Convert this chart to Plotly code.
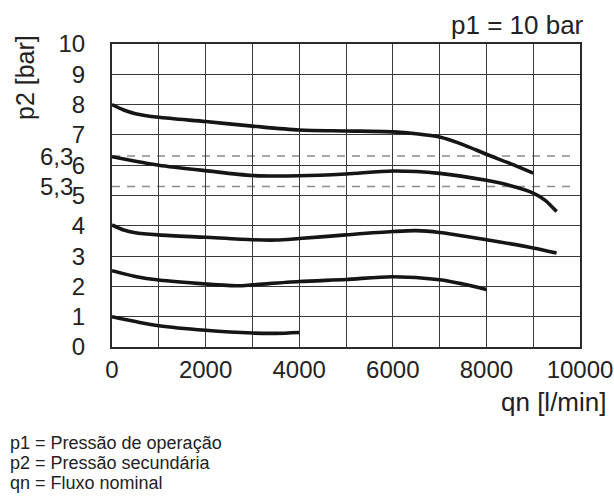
import plotly.graph_objects as go

# Flow rate qn [l/min] and secondary pressure p2 [bar] for each set point
flow_8 = [0, 250, 500, 1000, 2000, 3000, 4000, 5000, 6000, 6500, 7000, 7500, 8000, 8500, 9000]
p2_8 = [8.0, 7.82, 7.7, 7.58, 7.44, 7.29, 7.16, 7.13, 7.1, 7.04, 6.93, 6.68, 6.36, 6.06, 5.74]

flow_63 = [0, 500, 1000, 2000, 3000, 4000, 5000, 6000, 7000, 8000, 8500, 9000, 9250, 9500]
p2_63 = [6.28, 6.13, 6.0, 5.82, 5.66, 5.65, 5.71, 5.81, 5.73, 5.5, 5.33, 5.08, 4.85, 4.47]

flow_4 = [0, 250, 500, 1000, 2000, 3000, 3500, 4000, 5000, 6000, 6500, 7000, 8000, 9000, 9500]
p2_4 = [4.03, 3.86, 3.77, 3.7, 3.62, 3.54, 3.53, 3.58, 3.7, 3.81, 3.84, 3.78, 3.54, 3.27, 3.1]

flow_25 = [0, 500, 1000, 2000, 2700, 3000, 4000, 5000, 6000, 7000, 7500, 8000]
p2_25 = [2.52, 2.33, 2.21, 2.08, 2.02, 2.05, 2.16, 2.23, 2.32, 2.22, 2.08, 1.9]

flow_1 = [0, 500, 1000, 2000, 3000, 3500, 4000]
p2_1 = [1.0, 0.84, 0.7, 0.55, 0.46, 0.45, 0.48]

# Reference set-point levels shown as dashed lines
ref_levels = [6.3, 5.3]
ref_labels = ["6,3", "5,3"]

legend_lines = ["p1 = Pressão de operação", "p2 = Pressão secundária", "qn = Fluxo nominal"]

x_grid = list(range(0, 10001, 1000))
x_labels = [str(v) if v % 2000 == 0 else "" for v in x_grid]
y_grid = list(range(0, 11))

FONT = "Liberation Sans, Arial, sans-serif"
INK = "#222222"

fig = go.Figure()

for fx, fy in [(flow_8, p2_8), (flow_63, p2_63), (flow_4, p2_4), (flow_25, p2_25), (flow_1, p2_1)]:
    fig.add_trace(go.Scatter(
        x=fx, y=fy, mode="lines",
        line=dict(color="#151515", width=3.6, shape="spline", smoothing=0.8),
        showlegend=False, hoverinfo="skip",
    ))

for lvl, lab in zip(ref_levels, ref_labels):
    fig.add_shape(type="line", xref="x", yref="y", x0=0, x1=9800, y0=lvl, y1=lvl,
                  line=dict(color="#8a8a8a", width=1.5, dash="8px,7px"), layer="below")
    fig.add_annotation(xref="paper", yref="y", x=-0.078, y=lvl, text=lab, showarrow=False,
                       xanchor="right", yanchor="middle",
                       font=dict(family=FONT, size=24, color=INK))

fig.add_annotation(xref="paper", yref="paper", x=-0.186, y=0.891, text="p2 [bar]", textangle=-90,
                   showarrow=False, xanchor="center", yanchor="middle",
                   font=dict(family=FONT, size=25, color=INK))
fig.add_annotation(xref="paper", yref="paper", x=1.012, y=1.005, text="p1 = 10 bar",
                   showarrow=False, xanchor="right", yanchor="bottom",
                   font=dict(family=FONT, size=26, color=INK))
fig.add_annotation(xref="paper", yref="paper", x=1.062, y=-0.125, text="qn [l/min]",
                   showarrow=False, xanchor="right", yanchor="top",
                   font=dict(family=FONT, size=26, color=INK))

# Footer glossary, one line per annotation
for i, line in enumerate(legend_lines):
    fig.add_annotation(xref="paper", yref="paper", x=-0.222, y=(347 - 443 - 20 * i) / 303,
                       text=line, showarrow=False, xanchor="left", yanchor="middle",
                       font=dict(family=FONT, size=18, color=INK))

fig.update_layout(
    width=614, height=498,
    margin=dict(l=112, r=34, t=44, b=151, autoexpand=False),
    paper_bgcolor="white", plot_bgcolor="white",
    xaxis=dict(range=[0, 10000], tickvals=x_grid, ticktext=x_labels, automargin=False,
               showgrid=True, gridcolor="#3a3a3a", gridwidth=1,
               showline=True, linecolor="#2a2a2a", linewidth=2, mirror=True,
               zeroline=False, ticks="", ticklabelstandoff=0,
               tickfont=dict(family=FONT, size=24, color=INK)),
    yaxis=dict(range=[0, 10], tickvals=y_grid, automargin=False,
               showgrid=True, gridcolor="#3a3a3a", gridwidth=1,
               showline=True, linecolor="#2a2a2a", linewidth=2, mirror=True,
               zeroline=False, ticks="", ticklabelstandoff=20,
               tickfont=dict(family=FONT, size=24, color=INK)),
)

fig.write_html("out.html")
